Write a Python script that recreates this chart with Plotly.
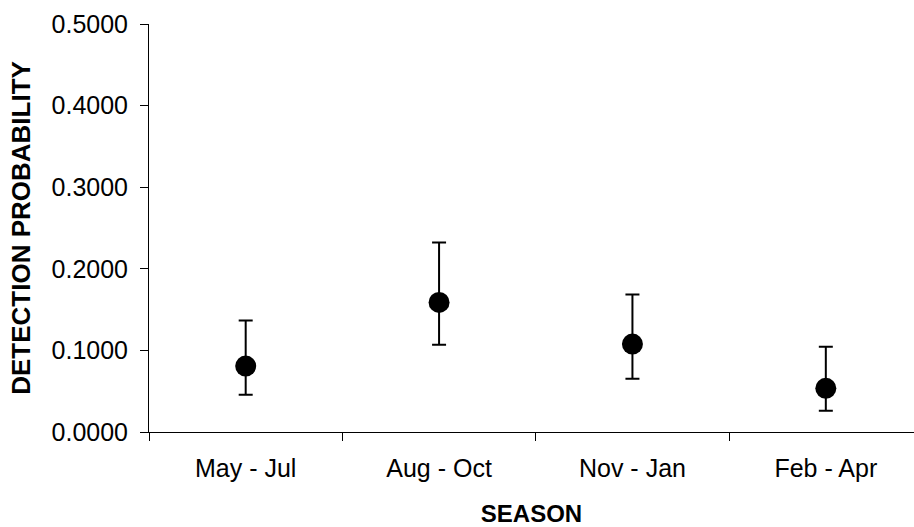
import plotly.graph_objects as go

seasons = ["May - Jul", "Aug - Oct", "Nov - Jan", "Feb - Apr"]
estimate = [0.0808, 0.1588, 0.1077, 0.0535]
upper = [0.1367, 0.2322, 0.1685, 0.1044]
lower = [0.0457, 0.1069, 0.0652, 0.0261]
y_ticks = [0.0, 0.1, 0.2, 0.3, 0.4, 0.5]

err_plus = [u - e for u, e in zip(upper, estimate)]
err_minus = [e - l for e, l in zip(estimate, lower)]

fig = go.Figure()
fig.add_trace(go.Scatter(
    x=seasons, y=estimate, mode="markers",
    marker=dict(size=21, color="black"),
    error_y=dict(type="data", symmetric=False, array=err_plus, arrayminus=err_minus,
                 color="black", thickness=2, width=7),
    showlegend=False,
))

font_family = "Liberation Sans, Arial, sans-serif"
fig.update_layout(
    width=914, height=527,
    margin=dict(l=149, r=0, t=24, b=95),
    paper_bgcolor="white", plot_bgcolor="white",
    font=dict(family=font_family, size=24, color="black"),
    xaxis=dict(
        type="category", range=[-0.5, 3.456], automargin=False,
        tickson="boundaries", ticks="outside", ticklen=8, tickcolor="black", tickwidth=1,
        showline=True, linecolor="black", linewidth=1, showgrid=False, zeroline=False,
        tickfont=dict(size=25), ticklabelstandoff=14,
        title=dict(text="<b>SEASON</b>", font=dict(size=24), standoff=25),
    ),
    yaxis=dict(
        range=[0, 0.5], tickvals=y_ticks, tickformat=".4f", automargin=False,
        ticks="outside", ticklen=8, tickcolor="black", tickwidth=1,
        showline=True, linecolor="black", linewidth=1, showgrid=False, zeroline=False,
        tickfont=dict(size=25), ticklabelstandoff=7,
        title=dict(text="<b>DETECTION PROBABILITY</b>", font=dict(size=26), standoff=13),
    ),
)

fig.write_html("out.html", config={"displayModeBar": False},
               post_script="document.body.style.margin='0';")
